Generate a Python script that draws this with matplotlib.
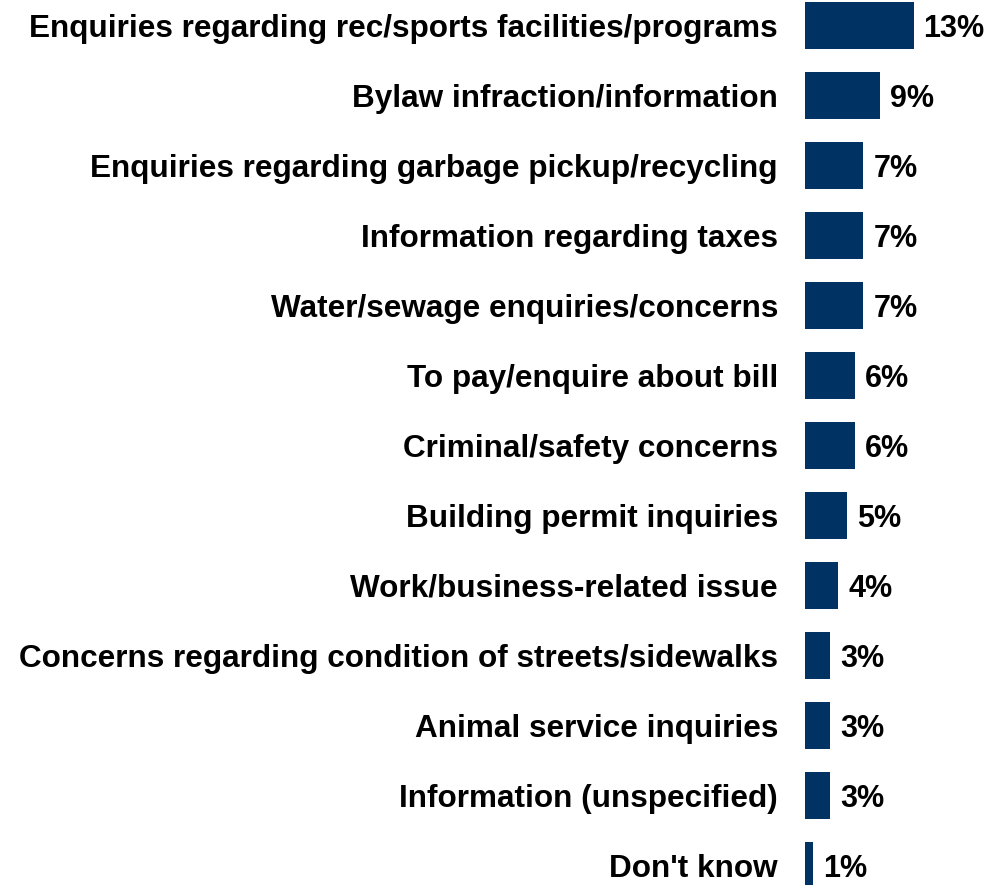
import matplotlib
matplotlib.use("Agg")
import matplotlib.pyplot as plt

categories = [
    "Enquiries regarding rec/sports facilities/programs",
    "Bylaw infraction/information",
    "Enquiries regarding garbage pickup/recycling",
    "Information regarding taxes",
    "Water/sewage enquiries/concerns",
    "To pay/enquire about bill",
    "Criminal/safety concerns",
    "Building permit inquiries",
    "Work/business-related issue",
    "Concerns regarding condition of streets/sidewalks",
    "Animal service inquiries",
    "Information (unspecified)",
    "Don't know",
]
values = [13, 9, 7, 7, 7, 6, 6, 5, 4, 3, 3, 3, 1]

plt.rcParams["font.family"] = ["Liberation Sans", "DejaVu Sans"]

fig = plt.figure(figsize=(9.89, 8.85), dpi=100)
ax = fig.add_axes([805 / 989, 0, 1 - 805 / 989, 1])

pos = list(range(len(values)))
ax.barh(pos, values, height=0.67, color="#003363")
for p, v in zip(pos, values):
    ax.text(v + 1.2, p, f"{v}%", va="center_baseline", ha="left",
            fontsize=22, fontweight="bold")

ax.set_xlim(0, 184 / 8.35)
ax.set_ylim(12 + (885 - 865.5) / 70, -25.5 / 70)
ax.set_yticks(pos)
ax.set_yticklabels(categories, fontsize=22.7, fontweight="bold",
                   va="center_baseline")
ax.tick_params(axis="y", length=0, pad=19.5)
ax.set_xticks([])
for s in ax.spines.values():
    s.set_visible(False)

fig.savefig("out.png", dpi=100)
